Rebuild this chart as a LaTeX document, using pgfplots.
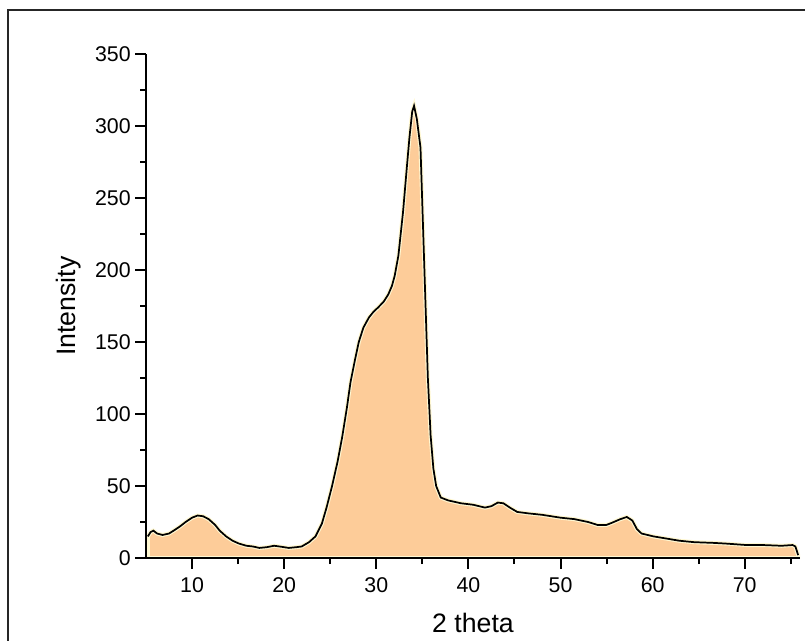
\documentclass[border=0pt]{standalone}
\usepackage{fontspec}
\setmainfont{Liberation Sans}
\usepackage{pgfplots}
\pgfplotsset{compat=1.18}

\definecolor{peach}{RGB}{253,204,153}
\definecolor{rim}{RGB}{255,248,210}
\newcommand\tickfont{\fontsize{16}{19}\selectfont}

\pgfplotstableread{
x y
5.2 15
5.5 18
5.8 19
6.2 17
6.8 16
7.5 17
8.0 19
8.7 22
9.3 25
10.0 28
10.6 29.5
11.2 29
11.8 27
12.5 23
13.0 19
13.7 15
14.4 12
15.1 10
15.9 8.5
16.6 8
17.3 7
18.1 7.5
18.9 8.5
19.5 8
20.5 7
21.3 7.5
21.9 8
22.7 11
23.4 15
24.1 24
24.6 35
25.2 50
25.8 67
26.3 84
26.8 104
27.2 122
27.7 138
28.1 150
28.6 160
29.2 167
29.7 171
30.2 174
30.8 178
31.3 183
31.7 189
32.0 196
32.4 210
32.9 240
33.3 270
33.6 292
33.9 310
34.1 314
34.4 305
34.8 285
35.1 225
35.3 185
35.6 125
35.9 85
36.2 62
36.5 50
37.0 42
37.8 40
39.2 38
40.5 37
41.8 35
42.5 36
43.2 38.5
43.8 38
44.5 35
45.3 32
46.5 31
48.0 30
50.0 28
51.5 27
53.0 25
54.0 23
55.0 23
55.6 24.5
56.5 27
57.2 28.5
57.8 26
58.3 20
58.8 17
60.1 15
61.5 13.5
62.9 12
64.5 11
66.6 10.5
68.0 10
70.2 9
72.0 9
74.0 8.5
75.2 9
75.5 8
75.8 2
}\xrd

\begin{document}
\begin{tikzpicture}
	\useasboundingbox (0,0) rectangle (603.75pt,480pt);
	\draw[line width=1.2pt, black!85] (6pt,-10pt) rectangle (620pt,472.5pt);
	\begin{axis}[
		at={(109.5pt,61.5pt)}, anchor=south west,
		scale only axis,
		width=490.5pt, height=378pt,
		xmin=5, xmax=76,
		ymin=0, ymax=350,
		axis x line*=bottom,
		axis y line*=left,
		axis line style={line width=1.8pt},
		axis on top,
		xtick={10,20,...,70},
		minor xtick={15,25,...,75},
		ytick={0,50,...,350},
		minor ytick={25,75,...,325},
		tick align=outside,
		major tick length=8pt,
		minor tick length=4.5pt,
		tick style={line width=1.5pt, black},
		xticklabel={\pgfmathtruncatemacro{\tk}{\tick}\hbox{\tickfont\tk}},
		yticklabel={\pgfmathtruncatemacro{\tk}{\tick}\hbox{\tickfont\tk}},
		xticklabel style={yshift=-3pt},
		label style={font=\fontsize{20}{24}\selectfont},
		xlabel={2 theta},
		ylabel={Intensity},
		xlabel style={at={(axis description cs:0.5,0)}, anchor=center, yshift=-49pt},
		ylabel style={at={(axis description cs:0,0.5)}, anchor=center, yshift=58pt},
		]
		\addplot[fill=peach, draw=rim, line width=3pt] table[x=x, y=y] {\xrd} \closedcycle;
		\addplot[black, line width=1.3pt] table[x=x, y=y] {\xrd};
	\end{axis}
\end{tikzpicture}
\end{document}
